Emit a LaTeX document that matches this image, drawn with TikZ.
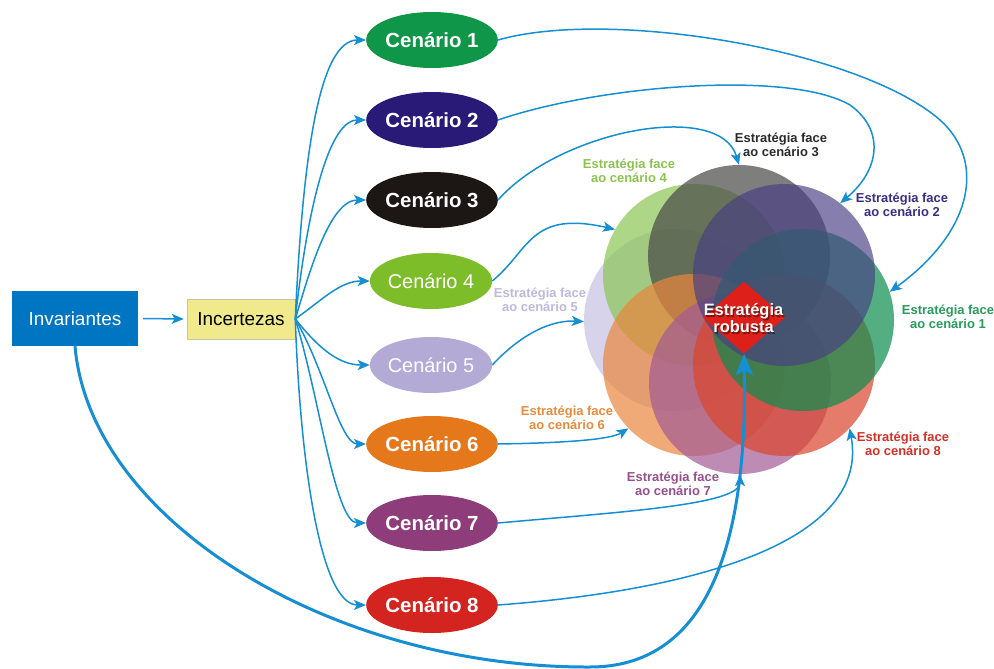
\documentclass[tikz,border=0pt]{standalone}
\usepackage{fontspec}
\setmainfont{Liberation Sans}
\usetikzlibrary{shapes.geometric,arrows.meta}
\definecolor{arrblue}{RGB}{22,142,212}
\definecolor{invblue}{RGB}{0,117,194}
\definecolor{incyel}{RGB}{240,234,140}
\definecolor{incedge}{RGB}{200,198,160}
\definecolor{ce1}{RGB}{16,150,72}
\definecolor{ce2}{RGB}{42,26,120}
\definecolor{ce3}{RGB}{28,22,20}
\definecolor{ce4}{RGB}{125,189,42}
\definecolor{ce5}{RGB}{180,170,214}
\definecolor{ce6}{RGB}{230,120,28}
\definecolor{ce7}{RGB}{142,60,122}
\definecolor{ce8}{RGB}{212,36,32}
\definecolor{ci1}{RGB}{10,142,78}
\definecolor{ci2}{RGB}{72,62,132}
\definecolor{ci3}{RGB}{72,72,70}
\definecolor{ci4}{RGB}{141,198,85}
\definecolor{ci5}{RGB}{198,193,226}
\definecolor{ci6}{RGB}{234,134,62}
\definecolor{ci7}{RGB}{162,91,148}
\definecolor{ci8}{RGB}{219,69,45}
\definecolor{lb1}{RGB}{42,154,92}
\definecolor{lb2}{RGB}{60,45,130}
\definecolor{lb3}{RGB}{43,43,43}
\definecolor{lb4}{RGB}{140,195,80}
\definecolor{lb5}{RGB}{190,185,220}
\definecolor{lb6}{RGB}{230,140,60}
\definecolor{lb7}{RGB}{150,80,140}
\definecolor{lb8}{RGB}{210,50,40}
\definecolor{robred}{RGB}{222,32,26}
\tikzset{
  cen/.style={ellipse, minimum width=112bp, minimum height=56bp, inner sep=0pt,
    text=white, font=\bfseries\fontsize{20.5}{22}\selectfont},
  cenlight/.style={cen, font=\fontsize{20}{22}\selectfont},
  strat/.style={circle, minimum size=182bp, inner sep=0pt, fill opacity=0.7, draw=none},
  lbl/.style={font=\bfseries\fontsize{13}{14}\selectfont, align=center, inner sep=0pt},
  robtext/.style={font=\bfseries\fontsize{16.5}{17}\selectfont, align=center, inner sep=0pt},
  arr/.style={draw=arrblue, line width=1.5bp, -{Stealth[length=12bp,width=10bp,inset=3bp]}},
  bigarr/.style={draw=arrblue, line width=3bp, -{Stealth[length=21bp,width=17bp,inset=4bp]}}
}
\begin{document}
\begin{tikzpicture}[x=1bp,y=-1bp]
\useasboundingbox (0,0) rectangle (994,669);
\fill[white] (0,0) rectangle (994,669);

% strategy circles
\node[strat, fill=ci5] (s5) at (675,320) {};
\node[strat, fill=ci4] (s4) at (694,275) {};
\node[strat, fill=ci3] (s3) at (739,256) {};
\node[strat, fill=ci6] (s6) at (694,365) {};
\node[strat, fill=ci7] (s7) at (740,383) {};
\node[strat, fill=ci8] (s8) at (784,365) {};
\node[strat, fill=ci1] (s1) at (803,320) {};
\node[strat, fill=ci2, fill opacity=0.66] (s2) at (784,275) {};

\node[diamond, fill=robred, minimum width=82bp, minimum height=72bp, inner sep=0pt] (rob) at (744,317.5) {};
\node[robtext, text=black, opacity=0.45] (robsh) at (744.8,319.8) {Estratégia\\robusta};
\node[robtext, text=white] (robt) at (743.5,318.5) {Estratégia\\robusta};

% left boxes
\node[fill=invblue, minimum width=126bp, minimum height=55bp, inner sep=0pt, text=white,
  font=\fontsize{19}{21}\selectfont] (inv) at (75,318.5) {Invariantes};
\node[fill=incyel, draw=incedge, line width=0.6bp, minimum width=108bp, minimum height=40bp, inner sep=0pt,
  font=\fontsize{19}{21}\selectfont] (inc) at (241,319) {Incertezas};

% scenarios
\node[cen, fill=ce1] (e1) at (432,40) {Cenário 1};
\node[cen, fill=ce2] (e2) at (432,120) {Cenário 2};
\node[cen, fill=ce3] (e3) at (432,200) {Cenário 3};
\node[cenlight, fill=ce4] (e4) at (431,281) {Cenário 4};
\node[cenlight, fill=ce5] (e5) at (431,365) {Cenário 5};
\node[cen, fill=ce6] (e6) at (432,444) {Cenário 6};
\node[cen, fill=ce7] (e7) at (432,523) {Cenário 7};
\node[cen, fill=ce8] (e8) at (432,605) {Cenário 8};

% labels
\node[lbl, text=lb1] (l1) at (948,317) {Estratégia face\\ao cenário 1};
\node[lbl, text=lb2] (l2) at (902,205) {Estratégia face\\ao cenário 2};
\node[lbl, text=lb3] (l3) at (781,145) {Estratégia face\\ao cenário 3};
\node[lbl, text=lb4] (l4) at (629,171) {Estratégia face\\ao cenário 4};
\node[lbl, text=lb5] (l5) at (540,300) {Estratégia face\\ao cenário 5};
\node[lbl, text=lb6] (l6) at (567,418) {Estratégia face\\ao cenário 6};
\node[lbl, text=lb7] (l7) at (673,484) {Estratégia face\\ao cenário 7};
\node[lbl, text=lb8] (l8) at (903,444) {Estratégia face\\ao cenário 8};

% arrows
\draw[arr, shorten <=5bp, shorten >=3bp] (inv.east) -- (inc.west);

\draw[arr] (inc.east) .. controls (303,150) and (320,40) .. (e1.west);
\draw[arr] (inc.east) .. controls (305,230) and (325,120) .. (e2.west);
\draw[arr] (inc.east) .. controls (310,270) and (330,200) .. (e3.west);
\draw[arr] (inc.east) .. controls (322,300) and (340,281) .. (e4.west);
\draw[arr] (inc.east) .. controls (320,350) and (340,365) .. (e5.west);
\draw[arr] (inc.east) .. controls (325,370) and (340,444) .. (e6.west);
\draw[arr] (inc.east) .. controls (320,400) and (335,523) .. (e7.west);
\draw[arr] (inc.east) .. controls (300,460) and (320,605) .. (e8.west);

\draw[arr] (e1.east) .. controls (610,8) and (860,50) .. (940,120) .. controls (985,160) and (975,230) .. (s1.18);
\draw[arr] (e2.east) .. controls (600,85) and (790,70) .. (850,105) .. controls (885,130) and (880,170) .. (s2.52);
\draw[arr] (e3.east) .. controls (560,130) and (720,100) .. (s3.90);
\draw[arr] (e4.east) .. controls (530,250) and (530,210) .. (s4.150);
\draw[arr] (e5.east) .. controls (525,330) and (555,320) .. (s5.181);
\draw[arr] (e6.east) .. controls (560,443) and (610,440) .. (s6.224);
\draw[arr] (e7.east) .. controls (620,512) and (740,505) .. (s7.270);
\draw[arr] (e8.east) .. controls (700,590) and (870,540) .. (s8.316);

\draw[bigarr] (inv.south) .. controls (90,520) and (330,668) .. (590,667) .. controls (700,667) and (748,560) .. (rob.south);
\end{tikzpicture}
\end{document}
